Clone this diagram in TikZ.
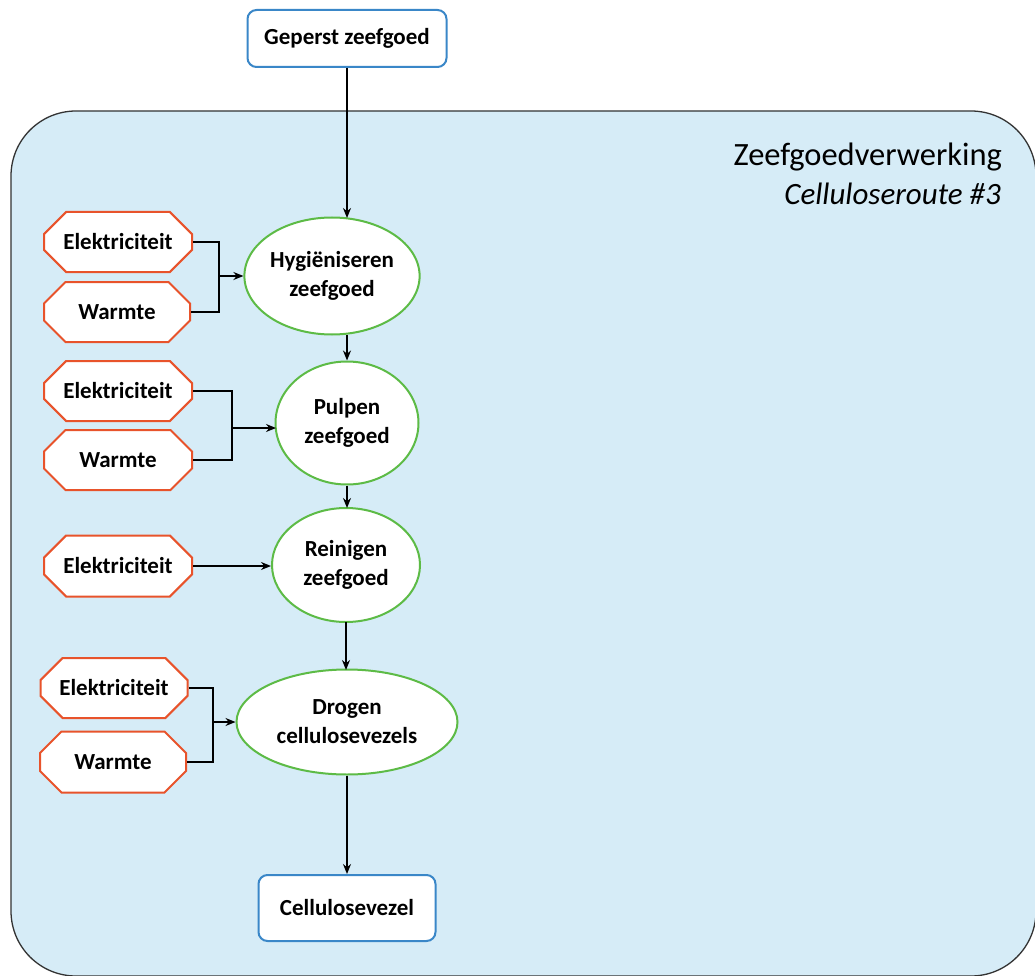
\documentclass[tikz,border=0pt]{standalone}
\usepackage{fontspec}
\setmainfont{Carlito}
\usepackage{tikz}
\usetikzlibrary{shapes.geometric,shapes.misc,calc,positioning,arrows.meta}
\definecolor{bgblue}{HTML}{D6ECF7}
\definecolor{boxblue}{HTML}{3A87C8}
\definecolor{ovgreen}{HTML}{5DBB46}
\definecolor{octred}{HTML}{E8532B}
\begin{document}
\begin{tikzpicture}[x=1pt,y=-1pt,>={Stealth[length=10pt,width=8pt]},line width=1.6pt,
endbox/.style = {draw=boxblue, fill=white, rounded corners=9pt, line width=2pt, minimum width=199pt, minimum height=57pt, font=\fontsize{23}{26}\selectfont\bfseries},
stap/.style = {draw=ovgreen, fill=white, ellipse, line width=2pt, inner sep=0pt, align=center, font=\fontsize{23}{29}\selectfont\bfseries},
bron/.style = {draw=octred, fill=white, chamfered rectangle, chamfered rectangle xsep=14pt, chamfered rectangle ysep=14pt, line width=2pt, minimum width=148pt, minimum height=60pt, inner sep=0pt, font=\fontsize{23}{26}\selectfont\bfseries},]
\useasboundingbox (0,0) rectangle (1035,976);
\begin{scope}
\clip (0,0) rectangle (1035,976);
\draw[fill=bgblue, draw=black!80, line width=1.3pt, rounded corners=65pt] (11,111) rectangle (1036,976);
\end{scope}
\node[anchor=east, font=\fontsize{32.5}{36}\selectfont] (titel) at (1006,157) {Zeefgoedverwerking};
\node[anchor=east, font=\fontsize{31}{34}\selectfont\itshape] (route) at (1005,194) {Celluloseroute \#3};
% in- en uitvoer
\node (G) at (347,38.5)[endbox, minimum width=199pt] {Geperst zeefgoed};
\node (C) at (347,908)[endbox, minimum width=177pt, minimum height=66pt] {Cellulosevezel};
% stappen
\node (H) at (332,276)[stap, minimum width=168pt, minimum height=117pt] {Hygiëniseren\\zeefgoed};
\node (P) at (347,423)[stap, minimum width=143pt, minimum height=123pt] {Pulpen\\zeefgoed};
\node (R) at (346,565)[stap, minimum width=148pt, minimum height=114pt] {Reinigen\\zeefgoed};
\node (D) at (347,722)[stap, minimum width=221pt, minimum height=105pt] {Drogen\\cellulosevezels};
% energie
\node (E1) at (118,242)[bron] {Elektriciteit};
\node (W1) at (117,312)[bron, minimum width=146pt] {Warmte};
\node (E2) at (118,391)[bron] {Elektriciteit};
\node (W2) at (118,460)[bron] {Warmte};
\node (E3) at (118,566)[bron, minimum height=61pt] {Elektriciteit};
\node (E4) at (114,688)[bron, minimum width=147pt] {Elektriciteit};
\node (W4) at (113,762)[bron, minimum width=146pt, minimum height=61pt] {Warmte};
% hoofdlijn
\draw[->] (G.south -| 347,0) --(347,218);
\draw[->] (347,335) --(P.north);
\draw[->] (P.south) --(347,508);
\draw[->] (346,622) --(346,670);
\draw[->] (D.south) --(C.north);
% aansluitingen
\coordinate (k1) at (219,276);
\coordinate (k2) at (232,428);
\coordinate (k4) at (213,722);
\draw (E1.east) -| (k1) |- (W1.east);
\draw[->] (k1) --(H.west |- k1);
\draw (E2.east) -| (k2) |- (W2.east);
\draw[->] (k2) --(276,428);
\draw[->] (E3.east) --(R.west |- E3.east);
\draw (E4.east) -| (k4) |- (W4.east);
\draw[->] (k4) --(D.west |- k4);
\end{tikzpicture}
\end{document}
